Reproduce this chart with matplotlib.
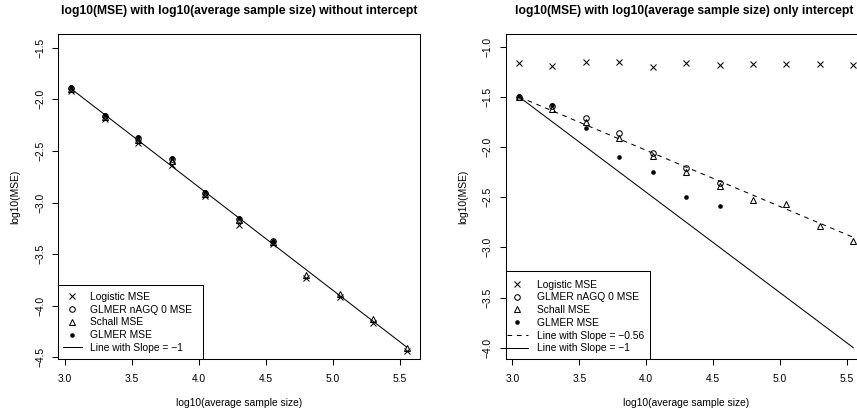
import matplotlib
matplotlib.use("Agg")
import matplotlib.pyplot as plt
from matplotlib.lines import Line2D
from matplotlib.patches import Rectangle
import numpy as np

plt.rcParams['font.family'] = ['Liberation Sans', 'DejaVu Sans']

# ---------------- data ----------------
log_size = [3.05, 3.30, 3.55, 3.80, 4.05, 4.30, 4.55, 4.80, 5.05, 5.30, 5.55]

# without intercept
logistic_wo = [-1.92, -2.19, -2.42, -2.64, -2.94, -3.22, -3.40, -3.735, -3.92, -4.17, -4.436]
glmer0_wo = [-1.89, -2.16, -2.37, -2.58, -2.905, -3.155, -3.375]
schall_wo = [-1.90, -2.175, -2.39, -2.595, -2.915, -3.165, -3.385, -3.70, -3.887, -4.13, -4.407]
glmer_wo = [-1.884, -2.155, -2.362, -2.572, -2.90, -3.15, -3.37]
line_start_wo = -1.90
slope_wo = -1.0

# only intercept
logistic_oi = [-1.166, -1.189, -1.150, -1.150, -1.199, -1.166, -1.182, -1.172, -1.176, -1.176, -1.182]
glmer0_oi = [-1.498, -1.588, -1.714, -1.864, -2.056, -2.206, -2.356]
schall_oi = [-1.505, -1.624, -1.748, -1.907, -2.09, -2.246, -2.386, -2.528, -2.568, -2.785, -2.937]
glmer_oi = [-1.49, -1.581, -1.814, -2.103, -2.246, -2.495, -2.585]
line_start_oi = -1.5
slope_fit_oi = -0.56
slope_ref_oi = -1.0

titles = ["log10(MSE) with log10(average sample size) without intercept",
          "log10(MSE) with log10(average sample size) only intercept"]
xlabel = "log10(average sample size)"
ylabel = "log10(MSE)"
labels = ["Logistic MSE", "GLMER nAGQ 0 MSE", "Schall MSE", "GLMER MSE"]

# ---------------- style ----------------
W, H = 857, 416
fig = plt.figure(figsize=(W / 100, H / 100), dpi=100)
FS = 7.4
LW = 0.75
DASH = (0, (4.5, 4.5))

AX_TOP, AX_BOT = 34.3, 359.3
AX_H = AX_BOT - AX_TOP

def px_axes(x0, x1):
    return [x0 / W, 1 - AX_BOT / H, (x1 - x0) / W, AX_H / H]

L_X0, L_X1 = 58, 420
R_X0, R_X1 = 505.7, 866.7
axL = fig.add_axes(px_axes(L_X0, L_X1))
axR = fig.add_axes(px_axes(R_X0, R_X1))

mk = dict(linestyle='none', color='black')
ms_x, ms_o, ms_t, ms_d = 3.9, 4.0, 4.5, 3.3

def draw_points(ax, logi, g0, sch, gl):
    xs = np.array(log_size)
    ax.plot(xs[:len(logi)], logi, marker='x', ms=ms_x, mew=LW, **mk)
    ax.plot(xs[:len(g0)], g0, marker='o', ms=ms_o, mew=LW, mfc='none', **mk)
    ax.plot(xs[:len(sch)], sch, marker='^', ms=ms_t, mew=LW, mfc='none', **mk)
    ax.plot(xs[:len(gl)], gl, marker='o', ms=ms_d, mew=0, **mk)

def style_axes(ax, xt, yt, xlim, ylim):
    ax.set_xlim(*xlim)
    ax.set_ylim(*ylim)
    ax.set_xticks(xt)
    ax.set_yticks(yt)
    ax.set_xticklabels([f"{v:.1f}" for v in xt])
    ax.set_yticklabels([f"{v:.1f}".replace('-', '\u2212') for v in yt])
    for s in ax.spines.values():
        s.set_linewidth(LW)
        s.set_color('black')
    ax.tick_params(direction='out', length=4.3, width=LW, labelsize=FS, colors='black')
    ax.tick_params(axis='x', pad=6.0)
    ax.tick_params(axis='y', pad=5.0)
    for t in ax.get_yticklabels():
        t.set_rotation(90)
        t.set_va('center')
    ax.set_xlabel(xlabel, fontsize=FS)
    ax.xaxis.set_label_coords(0.5, (AX_BOT - 403) / AX_H)
    ax.xaxis.label.set_va('center')
    ax.set_ylabel(ylabel, fontsize=FS)
    ax.yaxis.label.set_va('center')
    ax.yaxis.label.set_ha('center')

# ---- left ----
draw_points(axL, logistic_wo, glmer0_wo, schall_wo, glmer_wo)
xl = np.array([log_size[0], log_size[-1]])
axL.plot(xl, line_start_wo + slope_wo * (xl - xl[0]), color='black', lw=LW)
style_axes(axL, [3.0, 3.5, 4.0, 4.5, 5.0, 5.5], [-4.5, -4.0, -3.5, -3.0, -2.5, -2.0, -1.5],
           (2.95, 5.65), (-4.519, -1.370))
axL.yaxis.set_label_coords((15 - L_X0) / (L_X1 - L_X0), 0.5)

# ---- right ----
draw_points(axR, logistic_oi, glmer0_oi, schall_oi, glmer_oi)
axR.plot(xl, line_start_oi + slope_fit_oi * (xl - xl[0]), color='black', lw=LW, linestyle=DASH)
axR.plot(xl, line_start_oi + slope_ref_oi * (xl - xl[0]), color='black', lw=LW)
style_axes(axR, [3.0, 3.5, 4.0, 4.5, 5.0, 5.5], [-4.0, -3.5, -3.0, -2.5, -2.0, -1.5, -1.0],
           (2.95, 5.65), (-4.1156, -0.8764))
axR.yaxis.set_label_coords((463 - R_X0) / (R_X1 - R_X0), 0.5)

# ---- legends ----
def handles(extra):
    h = [Line2D([], [], marker='x', ms=ms_x, mew=LW, **mk),
         Line2D([], [], marker='o', ms=ms_o, mew=LW, mfc='none', **mk),
         Line2D([], [], marker='^', ms=ms_t, mew=LW, mfc='none', **mk),
         Line2D([], [], marker='o', ms=ms_d, mew=0, **mk)]
    return h + extra

def legend_box(ax, ax_x0, ax_x1, box_right, box_top, handle_x, first_row,
               hl, htp, hs, lbls):
    wpx = ax_x1 - ax_x0
    ax.add_patch(Rectangle((0, 0), (box_right - ax_x0) / wpx, (AX_BOT - box_top) / AX_H,
                           transform=ax.transAxes, facecolor='white', edgecolor='black',
                           lw=LW, zorder=4))
    leg = ax.legend(hs, lbls, loc='upper left',
                    bbox_to_anchor=((handle_x - ax_x0) / wpx, (AX_BOT - (first_row - 3.8)) / AX_H),
                    borderaxespad=0, borderpad=0, fontsize=FS, frameon=False,
                    handlelength=hl, handletextpad=htp, labelspacing=0.27)
    leg.set_zorder(5)
    return leg

hL = handles([Line2D([], [], color='black', lw=LW)])
legend_box(axL, L_X0, L_X1, 203, 285, 63, 295.7, 1.82, 0.81, hL,
           labels + ["Line with Slope = \u22121"])

hR = handles([Line2D([], [], color='black', lw=LW, linestyle=DASH),
              Line2D([], [], color='black', lw=LW)])
legend_box(axR, R_X0, R_X1, 650, 271, 507, 283.3, 2.04, 0.85, hR,
           labels + ["Line with Slope = \u22120.56", "Line with Slope = \u22121"])

# ---- titles ----
fig.text(239 / W, 1 - 11 / H, titles[0], ha='center', va='center',
         fontsize=8.7, fontweight='bold')
fig.text(684.5 / W, 1 - 11 / H, titles[1], ha='center', va='center',
         fontsize=8.7, fontweight='bold')

fig.savefig("out.png", dpi=100)
